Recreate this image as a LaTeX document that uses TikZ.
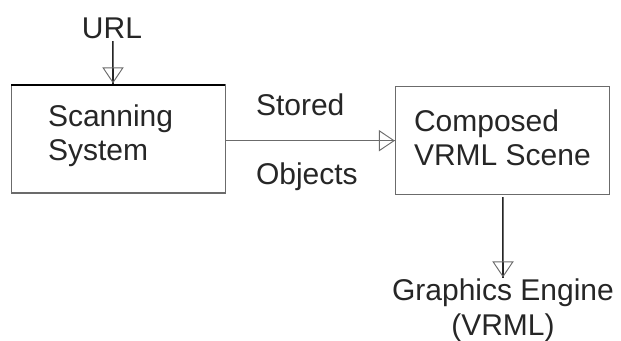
\documentclass[tikz,border=0pt]{standalone}
\usepackage{fontspec}
\setmainfont{Liberation Sans}
\usetikzlibrary{arrows.meta,positioning}
\definecolor{boxgray}{gray}{0.42}
\definecolor{inkgray}{gray}{0.15}
\tikzset{
  x=0.75pt,y=-0.75pt,
  boxnode/.style={draw=boxgray,line width=1.1pt,minimum width=160.5pt,minimum height=81pt,inner sep=0pt,outer sep=0pt},
  txt/.style={inner sep=0pt,outer sep=0pt,text=inkgray,align=left,font=\fontsize{22.5pt}{26pt}\selectfont},
  conn/.style={draw=inkgray,line width=0.8pt},
  openhead/.style={draw=boxgray,line width=0.7pt,-{Triangle[open,length=12pt,width=16pt]},shorten >=0.5pt},
}
\begin{document}
\begin{tikzpicture}
\useasboundingbox (0,0) rectangle (621,340);
\node[boxnode] (scan) at (118.3,139.2) {};
\node[boxnode] (comp) at (502.5,140.7) {};
\draw[black,line width=1.1pt] (scan.north west) -- (scan.north east);
\node[txt,anchor=base west] (scanl) at (48,160.7) {Scanning\\System};
\node[txt,anchor=base west] (compl) at (414,165.7) {Composed\\VRML Scene};
\node[txt,anchor=base] (url) at (112,38) {URL};
\node[txt,anchor=base west] (stored) at (256,115.5) {Stored};
\node[txt,anchor=base west] (objects) at (256,184) {Objects};
\node[txt,anchor=base,align=center] (engine) at (503,335) {Graphics Engine\\(VRML)};
\coordinate (urlout) at (113,41);
\coordinate (urlin) at (113,84);
\coordinate (compout) at (503,197);
\coordinate (enginein) at (503,278);
\coordinate (scanout) at (scan.east |- comp.west);
% shafts
\draw[conn] (urlout) -- (urlin);
\draw[conn,draw=boxgray] (scanout) -- (comp.west);
\draw[conn] (compout) -- (enginein);
% open heads
\draw[openhead] (urlout) -- (urlin);
\draw[openhead] (scanout) -- (comp.west);
\draw[openhead] (compout) -- (enginein);
\end{tikzpicture}
\end{document}
